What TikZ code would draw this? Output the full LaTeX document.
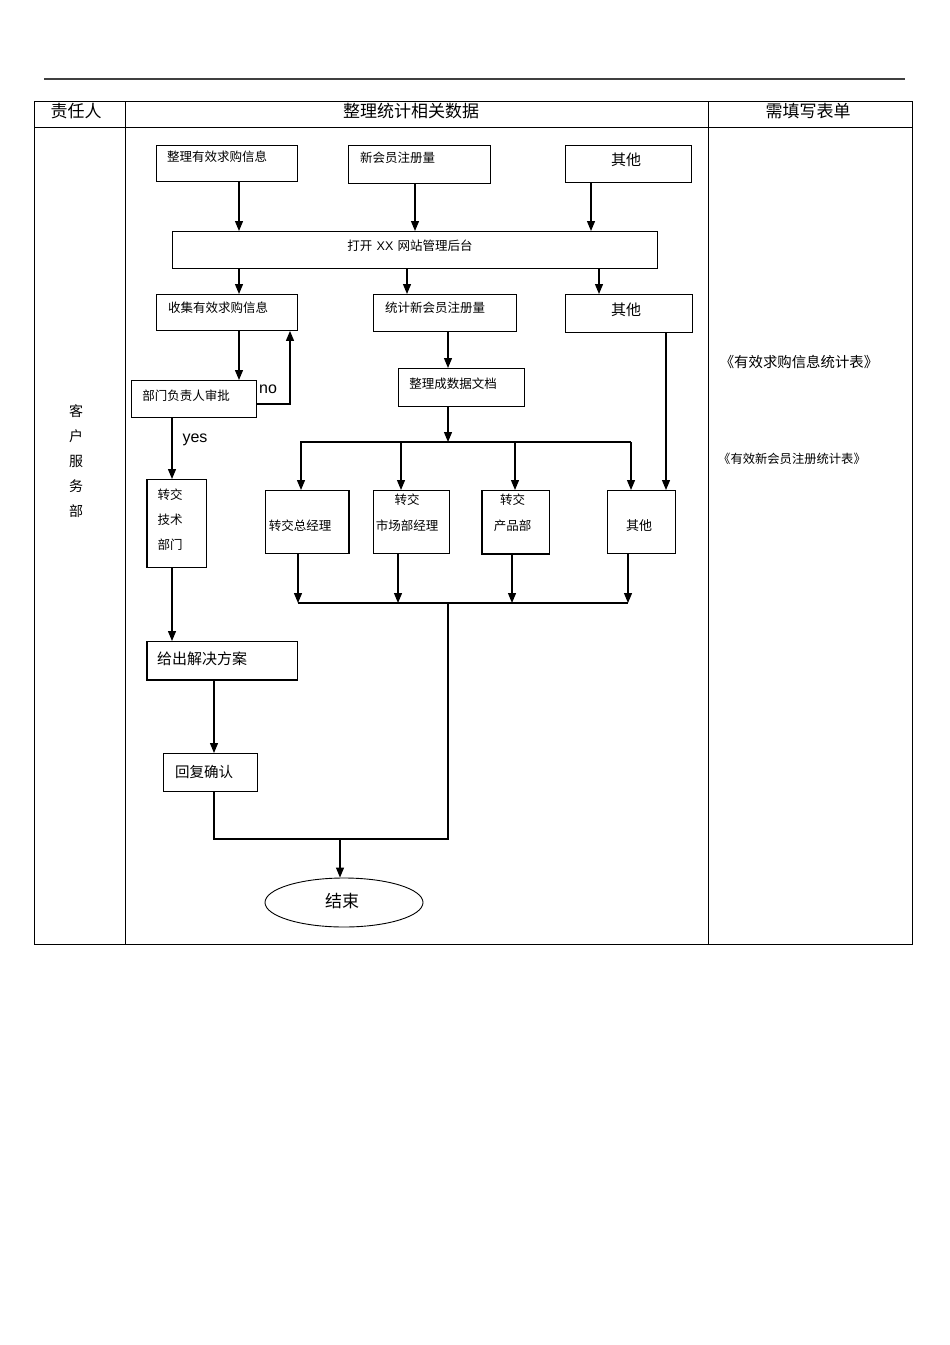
\documentclass[tikz,border=0pt]{standalone}
\usepackage{fontspec}
\setmainfont{Noto Sans CJK SC}
\newfontfamily\lib{Liberation Sans}
\usetikzlibrary{arrows.meta,shapes.geometric}
\begin{document}
\begin{tikzpicture}[x=1pt,y=-1pt,
  box/.style={draw, line width=0.9pt, inner sep=0pt, anchor=north west},
  txt/.style={inner sep=0pt, font=\fontsize{12.5}{12.5}\selectfont},
  big/.style={inner sep=0pt, font=\fontsize{15}{15}\selectfont},
  hdr/.style={inner sep=0pt, font=\fontsize{17}{17}\selectfont},
  lat/.style={inner sep=0pt, font=\lib\fontsize{16}{16}\selectfont},
  arr/.style={line width=1.2pt, -{Triangle[length=10pt,width=8pt]}},
  ln/.style={line width=1.2pt},
  heavy/.style={line width=2.2pt},
  grid/.style={line width=0.9pt}
]
\useasboundingbox (0,0) rectangle (950,1345);

% top rule and table
\draw[line width=1.2pt, black!75] (44,79) -- (905,79);
\draw[grid] (34,101) rectangle (912,944);
\draw[grid] (125,101) -- (125,944);
\draw[grid] (708,101) -- (708,944);
\draw[grid] (34,127) -- (912,127);

\node[hdr] (h1) at (76,111) {责任人};
\node[hdr] (h2) at (411,111) {整理统计相关数据};
\node[hdr] (h3) at (808,111) {需填写表单};
\node[txt, font=\fontsize{14}{25}\selectfont, align=center] (dept) at (76,461) {客\\户\\服\\务\\部};

% x columns / y rows
\coordinate (x239) at (239,0);
\coordinate (x415) at (415,0);
\coordinate (x591) at (591,0);
\coordinate (x407) at (407,0);
\coordinate (x599) at (599,0);
\coordinate (x290) at (290,0);
\coordinate (x172) at (172,0);
\coordinate (x214) at (214,0);
\coordinate (x340) at (340,0);
\coordinate (x448) at (448,0);
\coordinate (x666) at (666,0);
\coordinate (x300) at (300,0);
\coordinate (x301) at (301,0);
\coordinate (x401) at (401,0);
\coordinate (x515) at (515,0);
\coordinate (x631) at (631,0);
\coordinate (x298) at (298,0);
\coordinate (x398) at (398,0);
\coordinate (x512) at (512,0);
\coordinate (x628) at (628,0);
\coordinate (ysplit) at (0,442);
\coordinate (ymerge) at (0,603);
\coordinate (yno) at (0,404);
\coordinate (ylow) at (0,839);

% boxes
\node[box, minimum width=141pt, minimum height=36pt] (b1) at (156,145) {};
\node[box, minimum width=142pt, minimum height=38pt] (b2) at (348,145) {};
\node[box, minimum width=126pt, minimum height=37pt] (b3) at (565,145) {};
\node[box, minimum width=485pt, minimum height=37pt] (bg) at (172,231) {};
\node[box, minimum width=141pt, minimum height=36pt] (c1) at (156,294) {};
\node[box, minimum width=143pt, minimum height=37pt] (c2) at (373,294) {};
\node[box, minimum width=127pt, minimum height=38pt] (c3) at (565,294) {};
\node[box, minimum width=125pt, minimum height=37pt] (ap) at (131,380) {};
\node[box, minimum width=126pt, minimum height=38pt] (d) at (398,368) {};
\node[box, minimum width=59pt, minimum height=88pt] (tt) at (147,479) {};
\node[box, minimum width=83pt, minimum height=63pt] (e1) at (265,490) {};
\node[box, minimum width=76pt, minimum height=63pt] (e2) at (373,490) {};
\node[box, minimum width=67pt, minimum height=63pt] (e3) at (482,490) {};
\node[box, minimum width=68pt, minimum height=63pt] (e4) at (607,490) {};
\node[box, minimum width=150pt, minimum height=38pt] (s) at (147,641) {};
\node[box, minimum width=94pt, minimum height=38pt] (r) at (163,753) {};
\node[draw, line width=0.9pt, ellipse, inner sep=0pt, minimum width=158pt, minimum height=49pt] (end) at (344,902.5) {};

% heavier edges
\draw[heavy] (e1.north east) -- (e1.south east);
\draw[heavy] (e3.north west) -- (e3.south west) -- (e3.south east);
\draw[heavy] (tt.north west) -- (tt.south west);
\draw[heavy] (s.north west) -- (s.south west) -- (s.south east);

% texts
\node[txt] (b1t) at (217,157) {整理有效求购信息};
\node[txt] (b2t) at (397.5,158) {新会员注册量};
\node[big] (b3t) at (626,160) {其他};
\node[txt] (bgt) at (410,246) {打开\,\,{\lib XX}\,\,网站管理后台};
\node[txt] (c1t) at (218,308) {收集有效求购信息};
\node[txt] (c2t) at (435,308) {统计新会员注册量};
\node[big] (c3t) at (626,310) {其他};
\node[txt] (apt) at (186,396) {部门负责人审批};
\node[txt] (dt) at (453,384) {整理成数据文档};
\node[txt, font=\fontsize{12.5}{25}\selectfont, align=left] (ttt) at (170,520) {转交\\技术\\部门};
\node[txt] (e1t) at (300,526) {转交总经理};
\node[txt, font=\fontsize{12.5}{26}\selectfont, align=center] (e2t) at (407,513) {转交\\市场部经理};
\node[txt, font=\fontsize{12.5}{26}\selectfont, align=center] (e3t) at (512.5,513) {转交\\产品部};
\node[txt, font=\fontsize{13}{13}\selectfont] (e4t) at (639,526) {其他};
\node[big] (st) at (202,659) {给出解决方案};
\node[txt, font=\fontsize{14.5}{14.5}\selectfont] (rt) at (204,772) {回复确认};
\node[hdr] (endt) at (342,901) {结束};
\node[lat] (no) at (268,389) {no};
\node[lat] (yes) at (195,440) {yes};
\node[txt, font=\fontsize{14.4}{14.4}\selectfont] (f1) at (799,362) {《有效求购信息统计表》};
\node[txt, font=\fontsize{12.3}{12.3}\selectfont] (f2) at (792,459) {《有效新会员注册统计表》};

% connectors
\draw[arr] (b1.south -| x239) -- (bg.north -| x239);
\draw[arr] (b2.south -| x415) -- (bg.north -| x415);
\draw[arr] (b3.south -| x591) -- (bg.north -| x591);
\draw[arr] (bg.south -| x239) -- (c1.north -| x239);
\draw[arr] (bg.south -| x407) -- (c2.north -| x407);
\draw[arr] (bg.south -| x599) -- (c3.north -| x599);
\draw[arr] (c1.south -| x239) -- (ap.north -| x239);
\draw[arr] (ap.east |- yno) -| (c1.south -| x290);
\draw[arr] (ap.south -| x172) -- (tt.north -| x172);
\draw[arr] (tt.south -| x172) -- (s.north -| x172);
\draw[arr] (s.south -| x214) -- (r.north -| x214);
\draw[ln] (r.south -| x214) -- (x214 |- ylow) -- (x448 |- ylow) -- (x448 |- ymerge);
\draw[arr] (x340 |- ylow) -- (end.north -| x340);
\draw[arr] (c2.south -| x448) -- (d.north -| x448);
\draw[arr] (d.south -| x448) -- (x448 |- ysplit);
\draw[ln] (x300 |- ysplit) -- (x631 |- ysplit);
\draw[arr] (x301 |- ysplit) -- (e1.north -| x301);
\draw[arr] (x401 |- ysplit) -- (e2.north -| x401);
\draw[arr] (x515 |- ysplit) -- (e3.north -| x515);
\draw[arr] (x631 |- ysplit) -- (e4.north -| x631);
\draw[arr] (c3.south -| x666) -- (e4.north -| x666);
\draw[arr] (e1.south -| x298) -- (x298 |- ymerge);
\draw[arr] (e2.south -| x398) -- (x398 |- ymerge);
\draw[arr] (e3.south -| x512) -- (x512 |- ymerge);
\draw[arr] (e4.south -| x628) -- (x628 |- ymerge);
\draw[ln] (x298 |- ymerge) -- (x628 |- ymerge);
\end{tikzpicture}
\end{document}
